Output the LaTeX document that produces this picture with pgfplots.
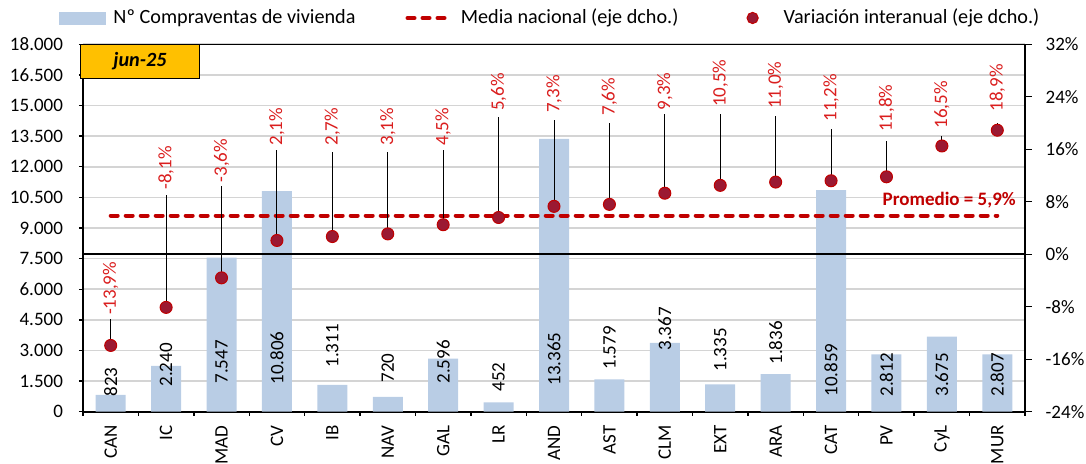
\documentclass[border=0pt]{standalone}
\usepackage{pgfplots}
\pgfplotsset{compat=1.18}
\usepackage{pgfplotstable}
\usepackage{fontspec}
\setmainfont{Carlito}
\newcommand\fs{\fontsize{9.5}{11}\selectfont}
\newcommand\lfs{\fontsize{10.1}{12}\selectfont}
\definecolor{barblue}{RGB}{185,205,229}
\definecolor{mediared}{RGB}{192,0,0}
\definecolor{dotred}{RGB}{155,25,50}
\definecolor{labelred}{RGB}{218,30,30}
\definecolor{junbox}{RGB}{255,192,0}

% x, region, sales, y of sales label, variation, top of leader line, y of variation label
\pgfplotstableread{
x  cat  sales slab  var   vline vlab
0  CAN  823   720   -13.9 -9.9  -9.3
1  IC   2240  1210  -8.1  9.0   9.8
2  MAD  7547  1357  -3.6  10.4  10.9
3  CV   10806 1308  2.1   15.9  16.5
4  IB   1311  2141  2.7   15.6  16.5
5  NAV  720   1406  3.1   15.6  16.5
6  GAL  2596  1357  4.5   15.9  16.5
7  LR   452   965   5.6   20.9  21.8
8  AND  13365 1259  7.3   20.5  21.5
9  AST  1579  2043  7.6   20.0  21.1
10 CLM  3367  2974  9.3   21.4  21.9
11 EXT  1335  1945  10.5  21.4  22.4
12 ARA  1836  2288  11.0  21.1  22.1
13 CAT  10859 720   11.2  19.1  20.2
14 PV   2812  720   11.8  17.3  18.6
15 CyL  3675  720   16.5  18.0  19.1
16 MUR  2807  720   18.9  20.0  21.7
}\datatable

\begin{document}
\begin{tikzpicture}
\useasboundingbox (-41.5pt,-26.15pt) rectangle (501.5pt,205.85pt);

% left axis: bars
\begin{axis}[
  at={(0,0)}, anchor=south west,
  scale only axis, width=471pt, height=183.7pt,
  xmin=-0.5, xmax=16.5, ymin=0, ymax=18000,
  axis x line*=bottom, axis y line*=left,
  x axis line style={line width=1pt},
  y axis line style={line width=1.2pt},
  xtick={-0.5,0.5,...,16.5}, xticklabels={},
  ytick={0,1500,...,18000},
  tick align=outside, major tick length=2pt,
  tick style={black, line width=0.7pt},
  ymajorgrids, major grid style={draw=black!17, line width=0.8pt},
  scaled y ticks=false,
  yticklabel={\pgfmathprintnumber{\tick}},
  yticklabel style={font=\fs, xshift=-4.5pt},
  /pgf/number format/1000 sep={.},
  /pgf/number format/assume math mode=true,
  legend style={draw=none, fill=none, inner sep=0pt, outer sep=0pt,
    at={(-0.0255,1.0716)}, anchor=west,
    legend columns=3, font=\lfs, nodes={inner sep=0pt},
    /tikz/column 1/.style={column sep=3.85pt},
    /tikz/column 2/.style={column sep=25pt},
    /tikz/column 3/.style={column sep=4.25pt},
    /tikz/column 4/.style={column sep=34pt},
    /tikz/column 5/.style={column sep=12.5pt}},
  legend cell align=left,
]
\addlegendimage{legend image code/.code={\fill[barblue] (0pt,-3pt) rectangle (23pt,3pt);}}
\addlegendentry{Nº Compraventas de vivienda}
\addlegendimage{legend image code/.code={\path[draw=none] (0pt,-3pt) rectangle (23.4pt,3pt);
  \draw[mediared, line width=2pt, dash pattern=on 3.5pt off 4pt, line cap=round] (1pt,0pt) -- (22.4pt,0pt);}}
\addlegendentry{Media nacional (eje dcho.)}
\addlegendimage{legend image code/.code={\path[draw=none] (0pt,-3pt) rectangle (6pt,3pt);
  \filldraw[fill=dotred, draw=mediared, line width=0.5pt] (3pt,0pt) circle (2.8pt);}}
\addlegendentry{Variación interanual (eje dcho.)}

\addplot[forget plot, ybar, bar width=15pt, fill=barblue, draw=none]
  table[x=x, y=sales] {\datatable};
\addplot[forget plot, draw=none, mark=none, point meta=explicit,
  nodes near coords={\pgfmathprintnumber{\pgfplotspointmeta}},
  every node near coord/.append style={rotate=90, anchor=west, font=\fs, text=black, inner sep=0pt}]
  table[x=x, y=slab, meta=sales] {\datatable};
\draw[black, line width=0.65pt] (rel axis cs:0,1) -- (rel axis cs:1,1);
\end{axis}

% right axis: variations
\begin{axis}[
  at={(0,0)}, anchor=south west,
  scale only axis, width=471pt, height=183.7pt,
  xmin=-0.5, xmax=16.5, ymin=-24, ymax=32,
  axis y line*=right, axis x line*=bottom,
  y axis line style={line width=1.2pt},
  x axis line style={draw=none},
  xtick={0,...,16},
  xticklabels={CAN,IC,MAD,CV,IB,NAV,GAL,LR,AND,AST,CLM,EXT,ARA,CAT,PV,CyL,MUR},
  xtick style={draw=none},
  xticklabel style={rotate=90, anchor=east, font=\fs},
  ytick={-24,-16,...,32},
  yticklabel={\pgfmathprintnumber{\tick}\%},
  yticklabel style={font=\fs, xshift=3.5pt},
  tick align=outside, major tick length=3.3pt,
  ytick style={black, line width=0.7pt},
  /pgf/number format/assume math mode=true,
  clip=false,
]
\addplot[black, line width=1pt] coordinates {(-0.5,0) (16.5,0)};
\addplot[mediared, line width=2pt, dash pattern=on 3.5pt off 4pt, line cap=round]
  coordinates {(0,5.9) (16,5.9)};
\addplot[draw=none, mark=none,
  error bars/.cd, y dir=plus, y explicit, error mark=none,
  error bar style={draw=black, line width=0.5pt}]
  table[x=x, y=var, y error expr=\thisrow{vline}-\thisrow{var}] {\datatable};
\addplot[only marks, mark=*, mark size=3pt,
  mark options={fill=dotred, draw=mediared, line width=0.5pt}]
  table[x=x, y=var] {\datatable};
\addplot[draw=none, mark=none, point meta=explicit,
  nodes near coords={\pgfmathprintnumber[fixed, fixed zerofill, precision=1, use comma]{\pgfplotspointmeta}\%},
  every node near coord/.append style={rotate=90, anchor=west, font=\fs, text=labelred, inner sep=0pt}]
  table[x=x, y=vlab, meta=var] {\datatable};

\node[anchor=east, font=\fs\bfseries, text=mediared, inner sep=0pt]
  at (axis cs:16.34,8.3) {Promedio = 5,9\%};
\node[draw=black, line width=0.5pt, fill=junbox, minimum width=59.5pt,
  minimum height=16.7pt, anchor=north west, inner sep=0pt, font=\lfs\bfseries\itshape]
  at ([xshift=-1.5pt]rel axis cs:0,1) {jun-25};
\end{axis}
\end{tikzpicture}
\end{document}
